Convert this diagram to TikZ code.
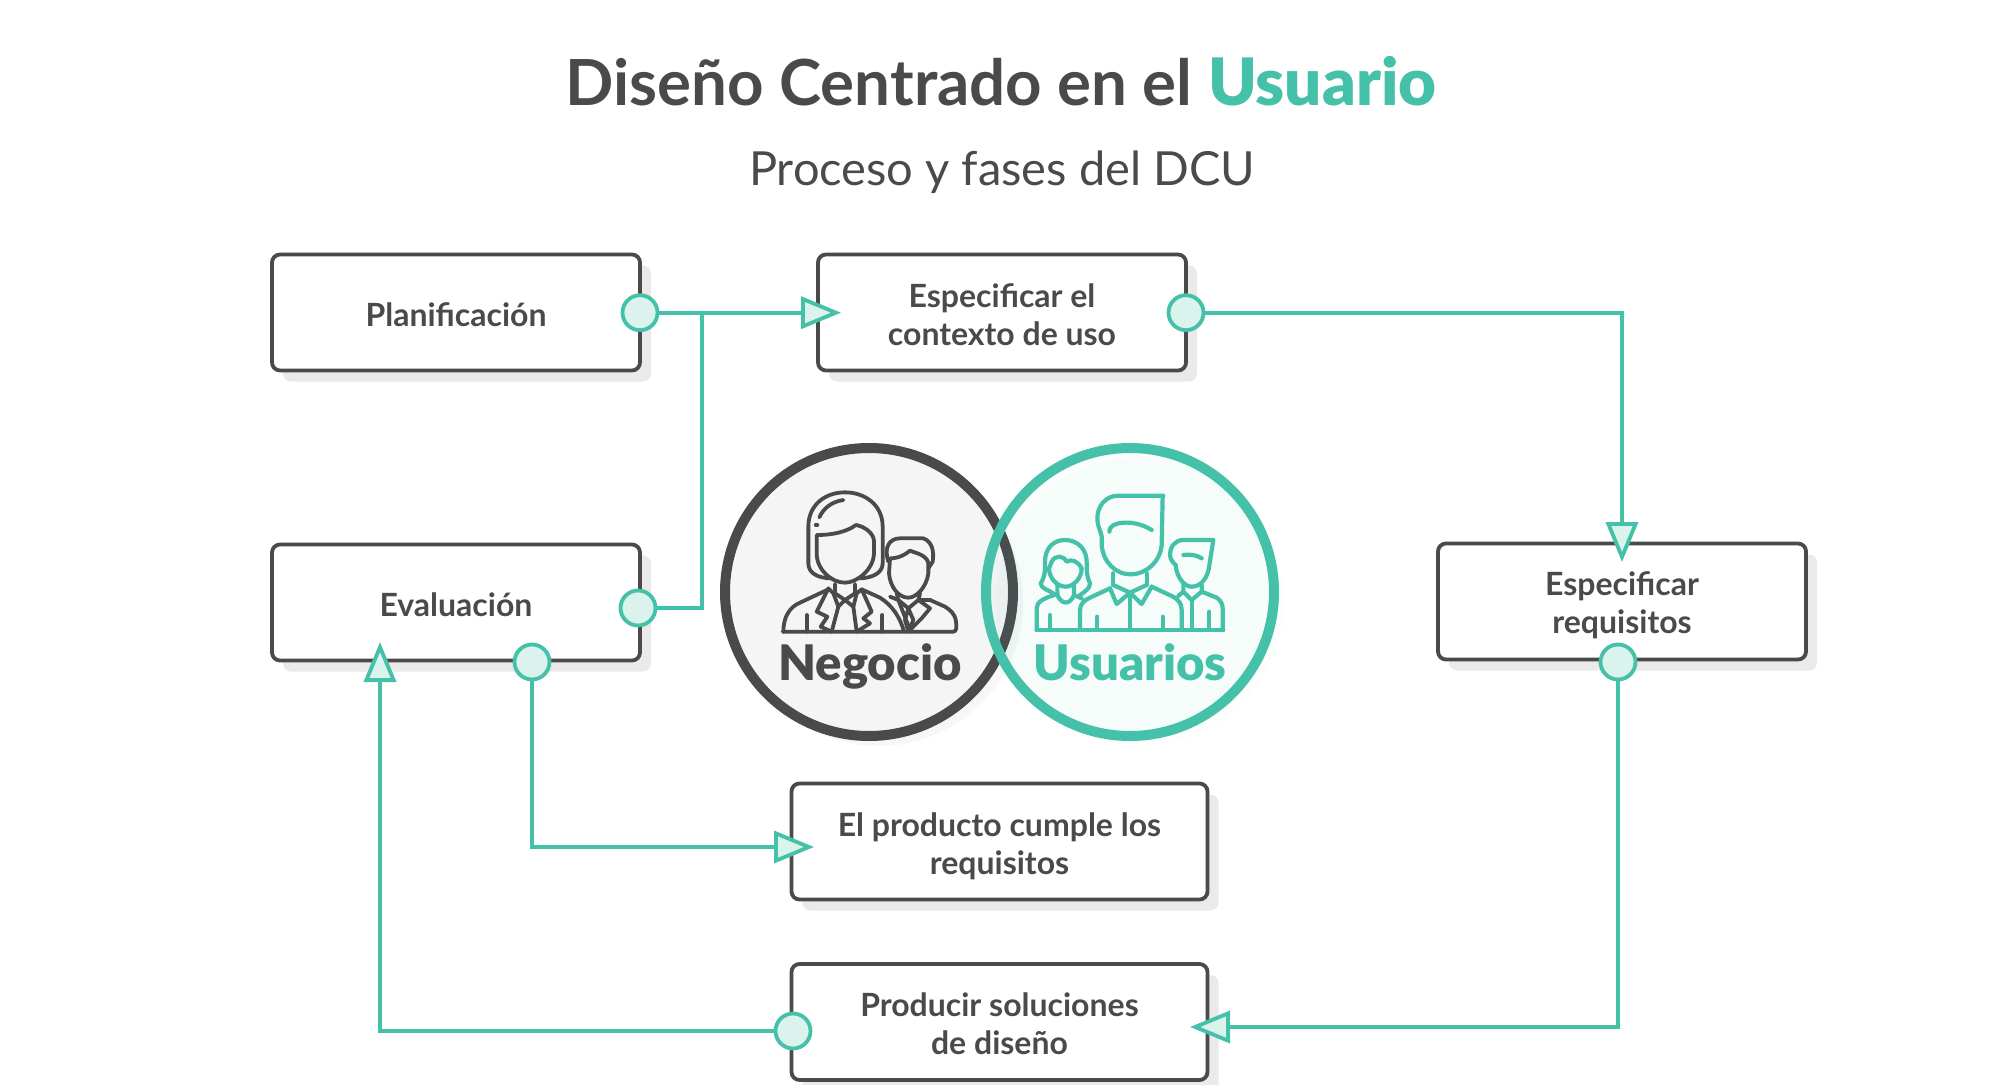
\documentclass[tikz,border=0pt]{standalone}
\usepackage{fontspec}
\setmainfont{Lato}
\newfontfamily\latoblack{Lato Black}
\usepackage{xcolor}
\usepackage{tikz}
\usetikzlibrary{arrows.meta, shadows}
\definecolor{inkGray}{HTML}{4A4A4A}
\definecolor{accTeal}{HTML}{45C1A9}
\definecolor{tintTeal}{HTML}{DAF3EC}
\definecolor{shadeGray}{HTML}{EAEAEA}
\newcommand{\lift}[1]{\rule{0pt}{#1}}
\begin{document}
\begin{tikzpicture}[
        x=0.5pt, y=-0.5pt, font=\bfseries\fontsize{16}{19}\selectfont,
        box/.style={draw=inkGray, fill=white, text=inkGray, line width=1.9pt, rounded corners=4pt, align=center,
              minimum width=184pt, minimum height=58pt, inner sep=0pt,
              general shadow={fill=shadeGray, draw=none, shadow xshift=5.5pt, shadow yshift=-5.5pt}},
        widebox/.style={box, minimum width=208pt},
        dot/.style={circle, draw=accTeal, fill=tintTeal, line width=1.9pt, minimum size=17.5pt, inner sep=0pt},
        arr/.style={draw=accTeal, line width=1.9pt, -{Triangle[length=20pt, width=16pt, fill=tintTeal, line width=1.9pt]}},
        conn/.style={draw=accTeal, line width=1.9pt},
        ring/.style={circle, line width=5pt, minimum size=144pt, inner sep=0pt},
        icon/.style={line width=1.9pt, line join=round, line cap=round}]
        \useasboundingbox (0,0) rectangle (2000,1085);
        \node[text=inkGray, font=\bfseries\fontsize{31.8}{36}\selectfont] (title) at (1001,81) {Diseño Centrado en el \textcolor{accTeal}{\latoblack\mdseries\fontsize{32.7}{36}\selectfont Usuario}};
        \node[text=inkGray, font=\fontsize{23.5}{30}\selectfont] (subtitle) at (1002,172) {Proceso y fases del DCU};
        % cajas
        \node[box] (plan) at (456,312.5) {\lift{14.5pt}Planificación};
        \node[box] (ctx) at (1002,312.5) {\lift{14pt}Especificar el\\contexto de uso};
        \node[box] (eval) at (456,602.5) {\lift{14.5pt}Evaluación};
        \node[box] (req) at (1622,601.5) {\lift{15.9pt}Especificar\\requisitos};
        \node[widebox] (ok) at (999.5,841.5) {\lift{17.1pt}El producto cumple los\\requisitos};
        \node[widebox] (sol) at (999.5,1022) {\lift{14pt}Producir soluciones\\de diseño};
        % circulos
        \node[ring, draw=inkGray, fill=black!4, general shadow={fill=black!3, draw=none, shadow xshift=5pt, shadow yshift=-5pt}] (neg) at (869,592) {};
        \node[ring, draw=accTeal, fill=accTeal, fill opacity=.03, draw opacity=1, general shadow={fill=accTeal, fill opacity=.025, draw=none, shadow xshift=5pt, shadow yshift=-5pt}] (usu) at (1130,592) {};
        \node[text=inkGray, anchor=base, font=\latoblack\fontsize{24.5}{28}\selectfont] (negtxt) at (870,680.5) {Negocio};
        \node[text=accTeal, anchor=base, font=\latoblack\fontsize{24.5}{28}\selectfont] (usutxt) at (1130,680.5) {Usuarios};
        % iconos negocio
        \begin{scope}[shift={(700,430)}, x=0.16667pt, y=-0.16667pt, icon, draw=inkGray]
          \draw (395,445) .. controls (355,445) and (325,430) .. (325,400) -- (325,290) .. controls (325,225) and (375,187) .. (435,187) .. controls (495,187) and (548,225) .. (548,290) -- (548,400) .. controls (548,430) and (515,445) .. (475,445);
          \draw (350,315) .. controls (400,315) and (440,305) .. (468,285) .. controls (495,290) and (522,310) .. (522,335) -- (522,370) .. controls (520,420) and (470,458) .. (435,458) .. controls (395,458) and (350,420) .. (350,370) -- cycle;
          \draw (358,262) .. controls (370,235) and (395,215) .. (430,210);
          \draw (347,285) -- (352,285);
          \draw (405,462) -- (405,490) -- (435,510) -- (465,490) -- (465,462);
          \draw (435,510) -- (415,530) -- (400,490) -- (385,475) -- (350,545) -- (382,560) -- (362,590) -- (395,605);
          \draw (435,510) -- (460,530) -- (470,490) -- (485,478) -- (515,545) -- (490,565) -- (510,580) -- (470,605);
          \draw (415,530) -- (395,605); \draw (460,530) -- (470,605);
          \draw (250,605) .. controls (250,560) and (270,530) .. (300,518) -- (385,478);
          \draw (485,478) -- (540,503) .. controls (575,525) and (600,560) .. (612,605);
          \draw (320,555) -- (320,605); \draw (547,555) -- (547,605);
          \draw (248,605) -- (625,605) -- (760,605) .. controls (770,605) and (770,590) .. (768,575) .. controls (765,550) and (750,540) .. (735,530) -- (690,510);
          \draw (565,395) .. controls (550,350) and (570,325) .. (600,325) -- (670,325) .. controls (695,335) and (703,360) .. (698,395) -- (685,415);
          \draw (570,385) .. controls (600,385) and (620,370) .. (630,362) .. controls (650,370) and (680,375) .. (685,400) -- (685,430) .. controls (680,470) and (650,503) .. (625,503) .. controls (595,503) and (570,470) .. (567,430) -- cycle;
          \draw (590,490) -- (595,510) -- (625,535) -- (655,510) -- (660,490);
          \draw (570,500) -- (595,510); \draw (655,510) -- (690,510);
          \draw (595,510) -- (630,600); \draw (655,510) -- (690,535) -- (665,565) -- (630,600);
          \draw (625,535) -- (615,570) -- (625,605) -- (640,570) -- cycle;
        \end{scope}
        % iconos usuarios
        \begin{scope}[shift={(970,430)}, x=0.16667pt, y=-0.16667pt, icon, draw=accTeal, line width=2.1pt]
          \draw (580,197) -- (445,197) .. controls (405,197) and (382,230) .. (382,265) .. controls (382,290) and (395,310) .. (395,320) -- (395,345) .. controls (400,400) and (440,433) .. (480,433) .. controls (530,433) and (570,395) .. (575,345) -- (578,197);
          \draw (418,305) .. controls (415,275) and (490,265) .. (545,300);
          \draw (430,430) -- (430,465); \draw (530,430) -- (530,465);
          \draw (420,475) -- (440,522) -- (480,488) -- (515,522) -- (545,470);
          \draw (430,465) -- (480,488) -- (530,465);
          \draw (480,488) -- (480,600);
          \draw (330,600) -- (330,540) .. controls (330,520) and (345,510) .. (360,503) -- (420,475);
          \draw (545,470) -- (605,498) .. controls (625,508) and (635,520) .. (635,540) -- (635,600);
          \draw (382,560) -- (382,600); \draw (578,560) -- (578,600);
          \draw (200,600) -- (760,600);
          \draw (250,490) .. controls (235,480) and (212,475) .. (212,460) .. controls (225,440) and (225,425) .. (225,395) .. controls (225,355) and (250,330) .. (285,330) .. controls (325,330) and (350,360) .. (350,395) .. controls (350,425) and (350,440) .. (360,460) .. controls (360,475) and (345,485) .. (330,495);
          \draw (237,415) -- (245,395) .. controls (255,375) and (280,375) .. (290,395) .. controls (305,385) and (325,395) .. (335,415) .. controls (335,445) and (310,470) .. (287,470) .. controls (262,470) and (237,445) .. (237,415);
          \draw (262,465) -- (262,495) .. controls (275,525) and (300,525) .. (312,495) -- (312,465);
          \draw (200,600) -- (200,535) .. controls (200,515) and (220,505) .. (262,492);
          \draw (312,495) -- (335,505);
          \draw (240,555) -- (240,600);
          \draw (730,330) -- (640,330) .. controls (615,330) and (600,350) .. (600,375) .. controls (600,390) and (612,400) .. (617,405) .. controls (620,445) and (645,470) .. (665,470) .. controls (695,470) and (715,440) .. (718,405) -- (730,330);
          \draw (640,375) .. controls (660,372) and (680,375) .. (695,385);
          \draw (640,465) -- (640,485) -- (665,510) -- (695,485) -- (695,465);
          \draw (695,485) -- (740,503) .. controls (750,510) and (758,520) .. (758,535) -- (758,600);
          \draw (625,498) -- (640,485);
          \draw (665,510) -- (665,600); \draw (718,545) -- (718,600);
        \end{scope}
        % puntos
        \node[dot] (plandot) at (640,312.7) {};
        \node[dot] (ctxdot) at (1186,312.7) {};
        \node[dot] (evaldot) at (638,608) {};
        \node[dot] (evaldotb) at (532,662) {};
        \node[dot] (reqdot) at (1618,662) {};
        \node[dot] (soldot) at (793,1031) {};
        % conectores
        \coordinate (ctxin) at (841,312.7);
        \coordinate (join) at (702,312.7);
        \coordinate (reqin) at (1622,562);
        \coordinate (okin) at (814,847);
        \coordinate (solin) at (1190,1027);
        \coordinate (evalin) at (380,642);
        \draw[arr] (plandot) -- (ctxin);
        \draw[conn] (evaldot) -| (join);
        \draw[arr] (ctxdot) -| (reqin);
        \draw[arr] (evaldotb) |- (okin);
        \draw[arr] (reqdot) |- (solin);
        \draw[arr] (soldot) -| (evalin);
      \end{tikzpicture}
\end{document}
